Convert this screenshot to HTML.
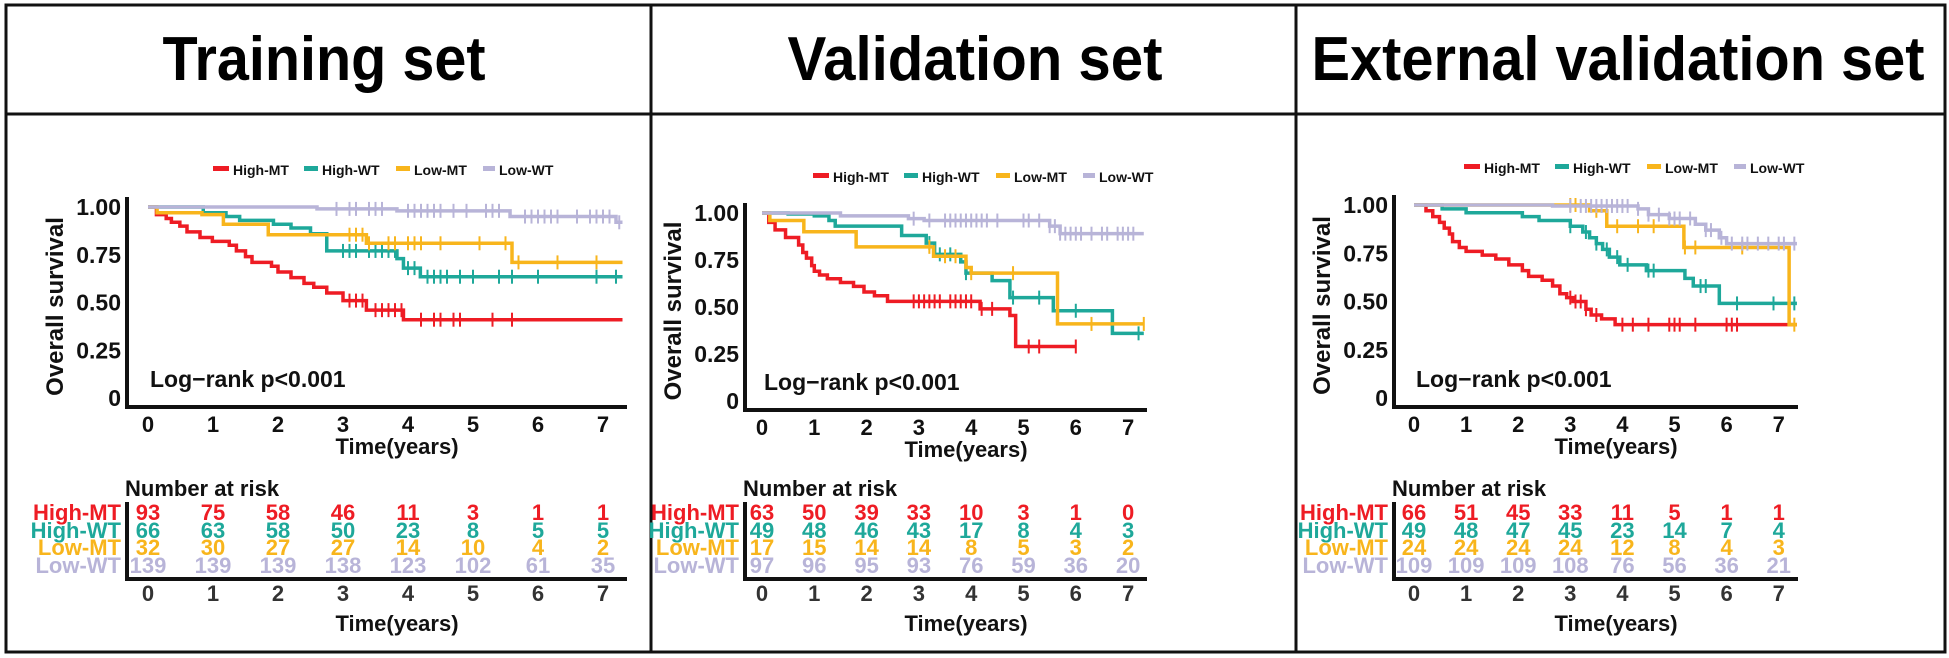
<!DOCTYPE html>
<html><head><meta charset="utf-8"><style>
html,body{margin:0;padding:0;background:#fff}
svg{display:block}
text{font-family:"Liberation Sans",Arial,sans-serif;font-weight:bold}
</style></head>
<body>
<svg id="fig" width="1949" height="658" xmlns="http://www.w3.org/2000/svg">
<rect x="6" y="5" width="1939" height="647" fill="none" stroke="#111" stroke-width="3"/>
<line x1="6" y1="114" x2="1945" y2="114" stroke="#111" stroke-width="3"/>
<line x1="651" y1="5" x2="651" y2="652" stroke="#111" stroke-width="3"/>
<line x1="1296" y1="5" x2="1296" y2="652" stroke="#111" stroke-width="3"/>
<text x="324" y="80" font-size="62" text-anchor="middle" textLength="323" lengthAdjust="spacingAndGlyphs">Training set</text>
<text x="975" y="80" font-size="62" text-anchor="middle" textLength="375" lengthAdjust="spacingAndGlyphs">Validation set</text>
<text x="1618" y="80" font-size="62" text-anchor="middle" textLength="613" lengthAdjust="spacingAndGlyphs">External validation set</text>
</svg>
<script>
// ---- data ----
const seriesNames = ["High-MT","High-WT","Low-MT","Low-WT"];
const colors = ["#ee1c24","#1ea89a","#f8b51c","#b8b4d8"];
const xTicks = [0,1,2,3,4,5,6,7];
const yTicks = [0,0.25,0.5,0.75,1];
const yTickLabels = ["0","0.25","0.50","0.75","1.00"];
// Training set
const trT = [[0,.13,.28,.36,.49,.6,.8,.99,1.25,1.36,1.5,1.6,1.9,2.0,2.2,2.4,2.55,2.75,3.0,3.36,3.93,7.3],
             [0,.85,1.2,1.41,1.93,2.2,2.5,2.75,3.83,3.93,4.19,7.3],
             [0,.14,.83,1.16,1.85,3.36,5.6,7.3],
             [0,2.6,3.83,5.57,7.2,7.3]];
const trS = [[1,.96,.94,.92,.90,.87,.84,.82,.80,.77,.74,.71,.69,.66,.63,.60,.58,.55,.51,.46,.41,.41],
             [1,.97,.95,.93,.91,.89,.86,.77,.73,.68,.635,.635],
             [1,.97,.96,.91,.855,.81,.71,.71],
             [1,.99,.98,.95,.92,.92]];
const trC = [[3.1,3.2,3.3,3.5,3.6,3.7,3.8,3.9,4.2,4.4,4.5,4.7,4.8,5.3,5.6],
             [3.0,3.1,3.2,3.4,3.5,3.6,3.7,3.8,4.0,4.1,4.3,4.4,4.5,4.6,4.8,5.0,5.4,5.6,6.0,6.9,7.2],
             [3.1,3.2,3.3,3.4,3.7,3.8,4.0,4.1,4.2,4.5,5.1,5.5,5.7,6.3,6.9],
             [2.9,3.1,3.2,3.4,3.5,3.6,4.0,4.1,4.2,4.3,4.4,4.5,4.7,4.9,5.2,5.3,5.4,5.8,5.9,6.0,6.1,6.2,6.3,6.6,6.8,6.9,7.0,7.1,7.25]];
const trRisk = [[93,75,58,46,11,3,1,1],[66,63,58,50,23,8,5,5],[32,30,27,27,14,10,4,2],[139,139,139,138,123,102,61,35]];
// Validation set
const vaT = [[0,.13,.25,.45,.7,.78,.85,.95,1.0,1.1,1.25,1.5,1.75,1.95,2.15,2.4,4.17,4.74,4.85,6.0],
             [0,.5,1.0,1.28,1.4,2.67,3.14,3.3,3.8,3.9,4.4,4.74,5.57,6.7,7.3],
             [0,.15,.8,1.8,3.28,3.9,4.0,5.6,5.65,7.3],
             [0,1.5,2.8,3.1,5.5,5.7,7.3]];
const vaS = [[1,.95,.91,.87,.83,.79,.76,.72,.69,.67,.65,.63,.61,.58,.56,.53,.49,.455,.29,.29],
             [1,.995,.985,.96,.93,.88,.84,.78,.74,.68,.64,.55,.48,.36,.36],
             [1,.96,.90,.82,.77,.71,.68,.68,.41,.41],
             [1,.985,.97,.96,.93,.89,.89]];
const vaC = [[2.9,3.0,3.1,3.2,3.3,3.4,3.6,3.7,3.8,3.9,4.0,4.2,4.4,5.1,5.3,6.0],
             [3.2,3.4,3.6,3.9,4.8,5.3,6.0,7.2],
             [3.2,3.5,3.7,4.0,4.8,6.3,7.3],
             [2.9,3.2,3.5,3.6,3.7,3.8,3.9,4.0,4.1,4.2,4.3,4.5,5.0,5.1,5.3,5.5,5.6,5.7,5.8,5.9,6.0,6.1,6.3,6.5,6.6,6.8,6.9,7.0,7.1]];
const vaRisk = [[63,50,39,33,10,3,1,0],[49,48,46,43,17,8,4,3],[17,15,14,14,8,5,3,2],[97,96,95,93,76,59,36,20]];
// External validation set
const exT = [[0,.23,.36,.49,.58,.68,.74,.87,1.0,1.31,1.57,1.82,2.08,2.2,2.46,2.66,2.8,2.93,3.05,3.3,3.4,3.6,3.86,7.35],
             [0,.54,1.0,2.08,2.4,3.0,3.24,3.37,3.5,3.62,3.75,3.95,4.46,5.2,5.36,5.86,7.35],
             [0,3.37,3.7,5.18,7.2,7.35],
             [0,2.66,4.3,4.5,4.9,5.4,5.6,5.86,6.0,7.35]];
const exS = [[1,.97,.94,.91,.88,.85,.81,.78,.76,.74,.72,.69,.66,.63,.61,.58,.54,.52,.50,.46,.43,.41,.38,.38],
             [1,.98,.96,.94,.92,.89,.86,.83,.80,.77,.73,.69,.66,.62,.58,.49,.49],
             [1,.97,.89,.78,.38,.38],
             [1,.995,.98,.95,.93,.90,.87,.83,.80,.80]];
const exC = [[3.0,3.1,3.2,3.3,3.5,4.0,4.2,4.5,4.9,5.0,5.1,5.4,6.0,6.1,6.2],
             [3.0,3.3,3.5,3.7,3.9,4.1,4.5,4.6,5.5,5.6,6.2,6.9,7.3],
             [3.0,3.1,3.5,3.9,4.3,4.6,5.2,5.4,6.3,7.3],
             [3.0,3.2,3.3,3.4,3.5,3.6,3.7,3.8,3.9,4.0,4.1,4.3,4.5,4.7,4.9,5.0,5.1,5.3,5.6,5.7,5.9,6.1,6.3,6.4,6.6,6.8,7.0,7.1,7.3]];
const exRisk = [[66,51,45,33,11,5,1,1],[49,48,47,45,23,14,7,4],[24,24,24,24,12,8,4,3],[109,109,109,108,76,56,36,21]];

// ---- layout configs (not data) ----
const panels = [
 {key:"training", T:trT,S:trS,C:trC,R:trRisk, yAx:127, x0:148, pxYear:65, xEnd:627, y1:207, y0:398, legX:213, legY:170},
 {key:"validation", T:vaT,S:vaS,C:vaC,R:vaRisk, yAx:745, x0:762, pxYear:52.3, xEnd:1147, y1:213, y0:401, legX:813, legY:177},
 {key:"external", T:exT,S:exS,C:exC,R:exRisk, yAx:1394, x0:1414, pxYear:52.1, xEnd:1798, y1:205, y0:398, legX:1464, legY:168}
];
const NS="http://www.w3.org/2000/svg";
const svg=document.getElementById("fig");
function mk(tag,attrs,parent){const e=document.createElementNS(NS,tag);for(const k in attrs)e.setAttribute(k,attrs[k]);(parent||svg).appendChild(e);return e;}
function txt(x,y,s,size,fill,anchor,parent){const t=mk("text",{x:x,y:y,"font-size":size,fill:fill||"#111","text-anchor":anchor||"start"},parent);t.textContent=s;return t;}

panels.forEach(p=>{
  const X=t=>p.x0+t*p.pxYear;
  const Y=s=>p.y0-s*(p.y0-p.y1);
  const g=mk("g",{});
  
  
  const axisBottom=p.y0+9;
  const ya=mk("line",{x1:p.yAx,y1:p.y1-10,x2:p.yAx,y2:axisBottom+2,stroke:"#111","stroke-width":4},g);
  
  
  const xa=mk("line",{x1:p.yAx-2,y1:axisBottom,x2:p.xEnd,y2:axisBottom,stroke:"#111","stroke-width":4},g);
  
  
  yTicks.forEach((v,i)=>{
    const t=txt(p.yAx-6,Y(v)+8,yTickLabels[i],23,"#111","end",g);
    
    
  });
  xTicks.forEach(v=>{
    const t=txt(X(v),axisBottom+25,String(v),22,"#111","middle",g);
    
    
  });
  const xt=txt((p.yAx+p.xEnd)/2+20,axisBottom+47,"Time(years)",22,"#111","middle",g);
  
  
  const yt=txt(0,0,"Overall survival",24,"#111","middle",g);
  yt.setAttribute("transform",`translate(${p.yAx-64},${(p.y0+p.y1)/2+4}) rotate(-90)`);
  
  
  const lr=txt(p.x0+2,p.y0-11,"Log\u2212rank p<0.001",23,"#111","start",g);
  
  
  seriesNames.forEach((nm,si)=>{
    const T=p.T[si],S=p.S[si];
    let d=`M${X(T[0])},${Y(S[0])}`;
    for(let i=1;i<T.length;i++){d+=` H${X(T[i])} V${Y(S[i])}`;}
    const path=mk("path",{d:d,fill:"none",stroke:colors[si],"stroke-width":3.5},g);
    
    
    p.C[si].forEach(c=>{
      let s=S[0];for(let i=0;i<T.length;i++){if(T[i]<=c)s=S[i];}
      const m=mk("line",{x1:X(c),x2:X(c),y1:Y(s)-7,y2:Y(s)+7,stroke:colors[si],"stroke-width":2},g);
      
      
    });
  });
  let lx=p.legX;
  const legW=[[16,57],[14,60],[14,55],[12,56]];
  seriesNames.forEach((nm,si)=>{
    const sw=mk("rect",{x:lx,y:p.legY-4,width:legW[si][0],height:5,fill:colors[si]},g);
    
    
    const lt=txt(lx+legW[si][0]+4,p.legY+5,nm,14,"#111","start",g);
    
    
    lx+=legW[si][0]+4+legW[si][1]+14;
  });
  const nar=txt(p.yAx-2,496,"Number at risk",22,"#111","start",g);
  
  
  const rowY=[520,538,555,573];
  seriesNames.forEach((nm,si)=>{
    const rl=txt(p.yAx-6,rowY[si],nm,22,colors[si],"end",g);
    
    
    p.R[si].forEach((v,ti)=>{
      const n=txt(X(xTicks[ti]),rowY[si],String(v),22,colors[si],"middle",g);
      
      
    });
  });
  const tv=mk("line",{x1:p.yAx,y1:502,x2:p.yAx,y2:580,stroke:"#111","stroke-width":4},g);
  
  
  const th=mk("line",{x1:p.yAx-2,y1:579,x2:p.xEnd,y2:579,stroke:"#111","stroke-width":4},g);
  
  
  xTicks.forEach(v=>{
    const t=txt(X(v),601,String(v),22,"#333","middle",g);
    
    
  });
  const rt=txt((p.yAx+p.xEnd)/2+20,631,"Time(years)",22,"#111","middle",g);
  
  
});
</script>
</body></html>
